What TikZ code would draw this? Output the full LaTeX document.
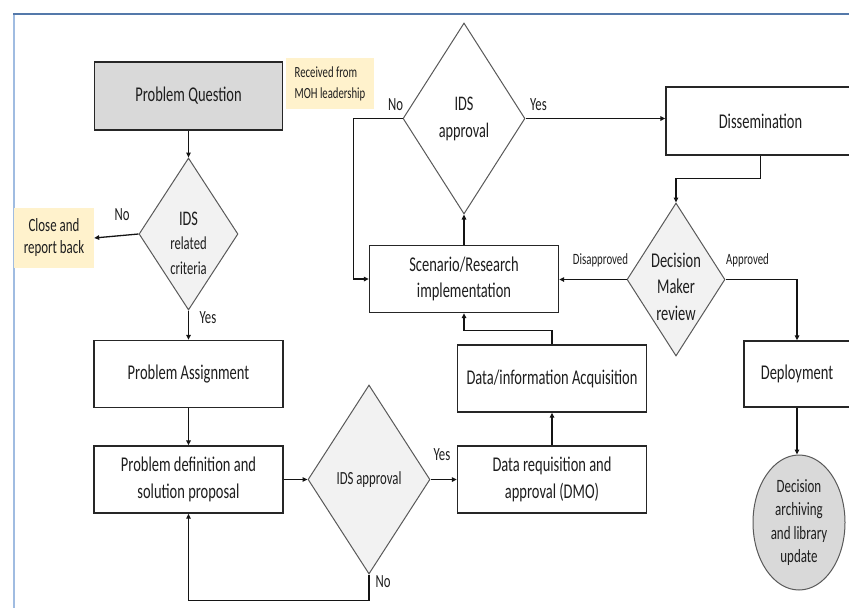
\documentclass[tikz,border=0pt]{standalone}
\usepackage{fontspec}
\setmainfont{Carlito}[FakeStretch=0.69]
\usetikzlibrary{arrows.meta}
\usetikzlibrary{shapes.geometric}
\usetikzlibrary{positioning}

\definecolor{boxline}{RGB}{38,38,38}
\definecolor{decline}{RGB}{89,89,89}
\definecolor{decfill}{RGB}{242,242,242}
\definecolor{pqfill}{RGB}{217,217,217}
\definecolor{notefill}{RGB}{255,242,204}
\definecolor{connline}{RGB}{20,20,20}
\definecolor{txt}{RGB}{30,30,30}
\definecolor{frameblue}{RGB}{84,121,170}
\definecolor{framelight}{RGB}{160,188,225}

\begin{document}
\begin{tikzpicture}[
    x=1pt, y=-1pt,
    box/.style={rectangle, draw=boxline, line width=1.3pt, fill=white, minimum width=189pt, minimum height=67pt, inner sep=2pt, align=center, text=txt, font=\fontsize{21}{27}\selectfont},
    decision/.style={diamond, draw=decline, fill=decfill, line width=1pt, inner sep=0pt, align=center, text=txt},
    dtext/.style={align=center, text=txt, font=\fontsize{21}{26.5}\selectfont},
    note/.style={fill=notefill, inner sep=0pt, text=txt},
    lbl/.style={text=txt, font=\fontsize{18.5}{20}\selectfont},
    slbl/.style={text=txt, font=\fontsize{15.7}{18}\selectfont},
    conn/.style={draw=connline, line width=1.3pt, -{Triangle[length=5pt, width=4.5pt]}},
    >=stealth
]

\path[fill=white, use as bounding box] (0,0) rectangle (849,608);
\clip (0,0) rectangle (849,608);

% --- Frame ---
\draw[framelight, line width=2pt] (14,14) -- (14,608);
\draw[frameblue, line width=1.5pt] (13,14) -- (849,14);

% --- Left column ---
\node[box, fill=pqfill, minimum width=188pt, minimum height=68pt] (pq) at (188.5,96) {Problem Question};
\node[note, minimum width=88pt, minimum height=51pt, align=left, font=\fontsize{15.5}{21}\selectfont] (rcv) at (330,83.5) {Received from\\MOH leadership};
\node[decision, minimum width=99pt, minimum height=152pt] (ids1) at (188.5,234) {};
\node[dtext, font=\fontsize{18.3}{24.5}\selectfont] (ids1t) at (188.5,243) {{\fontsize{20.7}{24.5}\selectfont IDS}\\related\\criteria};
\node[note, minimum width=80pt, minimum height=60pt, align=center, font=\fontsize{18.7}{22}\selectfont] (close) at (54,238) {Close and\\report back};
\node[box] (pa) at (188.5,374) {Problem Assignment};
\node[box] (pd) at (188.5,479.5) {Problem definition and\\solution proposal};

% --- Middle ---
\node[decision, minimum width=122pt, minimum height=189pt, font=\fontsize{18.5}{20}\selectfont] (ids2) at (369,479.5) {IDS approval};
\node[box] (dr) at (552,479.5) {Data requisition and\\approval (DMO)};
\node[box] (da) at (552,378.5) {Data/information Acquisition};
\node[box, font=\fontsize{21}{26}\selectfont] (sr) at (464,279) {Scenario/Research\\implementation};
\node[decision, fill=white, minimum width=122pt, minimum height=191pt, font=\fontsize{20.7}{27}\selectfont] (ida) at (464,118.5) {IDS\\approval};

% --- Right column ---
\node[box, minimum height=68pt] (dis) at (760.5,121) {Dissemination};
\node[decision, minimum width=98pt, minimum height=153pt] (dmr) at (676,279.5) {};
\node[dtext] (dmrt) at (676,286.5) {Decision\\Maker\\review};
\node[box, minimum width=106pt, minimum height=66pt] (dep) at (797,374) {Deployment};
\node[ellipse, draw=decline, fill=pqfill, line width=1pt, minimum width=92pt, minimum height=135pt, inner sep=0pt, align=center, text=txt, font=\fontsize{18.8}{23.3}\selectfont] (arch) at (799,522.5) {Decision\\archiving\\and library\\update};

% --- Connectors ---
\draw[conn] (pq.south) -- (ids1.north);
\draw[conn] (ids1.west) -- (close.east);
\draw[conn] (ids1.south) -- (pa.north);
\draw[conn] (pa.south) -- (pd.north);
\draw[conn] (pd.east) -- (ids2.west);
\draw[conn] (ids2.south) -- ++(0,26) -| (pd.south);
\draw[conn] (ids2.east) -- (dr.west);
\draw[conn] (dr.north) -- (da.south);
\draw[conn] (da.north) -- ++(0,-14) -| (sr.south);
\draw[conn] (sr.north) -- (ida.south);
\draw[conn] (ida.west) -- ++(-49,0) |- (sr.west);
\draw[conn] (ida.east) -- (ida.east -| dis.west);
\draw[conn] (dis.south) -- ++(0,23) -| (dmr.north);
\draw[conn] (dmr.west) -- (dmr.west -| sr.east);
\draw[conn] (dmr.east) -| (dep.north);
\draw[conn] (dep.south) -- (dep.south |- arch.north);

% --- Labels ---
\node[lbl] (no1) at (122,215) {No};
\node[lbl] (yes1) at (208,318) {Yes};
\node[lbl] (yes2) at (442,455) {Yes};
\node[lbl] (no2) at (383,582) {No};
\node[lbl] (no3) at (395.5,105) {No};
\node[lbl] (yes3) at (538.5,105) {Yes};
\node[slbl] (disap) at (600.5,260) {Disapproved};
\node[slbl] (appr) at (747.5,260) {Approved};

\end{tikzpicture}
\end{document}
